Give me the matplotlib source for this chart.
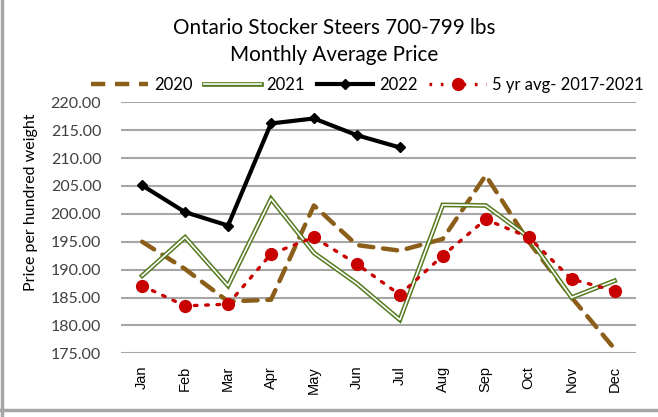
import numpy as np
import matplotlib
matplotlib.use("Agg")
from matplotlib import pyplot as plt
from matplotlib.lines import Line2D
import matplotlib.patheffects as pe

months = ["Jan", "Feb", "Mar", "Apr", "May", "Jun",
          "Jul", "Aug", "Sep", "Oct", "Nov", "Dec"]

y2020 = [195.0, 190.1, 184.3, 184.6, 201.5, 194.4, 193.4, 195.5, 206.9, 195.0, 185.0, 175.8]
y2021 = [188.9, 195.8, 187.1, 202.7, 193.0, 187.5, 181.0, 201.6, 201.5, 195.8, 185.0, 188.0]
y2022 = [205.1, 200.3, 197.9, 216.2, 217.1, 214.1, 211.9]
avg5 = [187.1, 183.5, 183.8, 192.8, 195.8, 191.0, 185.5, 192.5, 199.0, 195.8, 188.3, 186.2]

brown = "#8b5e1a"
green = "#557a1f"
red = "#c80000"
grid = "#a6a6a6"

fig = plt.figure(figsize=(6.58, 4.17), dpi=100)
ax = fig.add_axes([0.1834, 0.1528, 0.7832, 0.6019])

x = np.arange(len(months))

ax.plot(x, y2020, color=brown, lw=3.2, dashes=(3.2, 2.2), solid_capstyle="round",
        dash_capstyle="round", zorder=3)
# double line for 2021: thick green with white core
ax.plot(x, y2021, color=green, lw=3.4, zorder=4, solid_joinstyle="miter")
ax.plot(x, y2021, color="white", lw=1.2, zorder=4.1, solid_joinstyle="miter")
ax.plot(x[:len(y2022)], y2022, color="black", lw=3.0, marker="D", ms=5,
        zorder=5)
ax.plot(x, avg5, color=red, lw=2.4, linestyle=(0, (0.8, 2.6)),
        dash_capstyle="round", marker="o", ms=8.5, zorder=6)

ax.set_xlim(-0.5, 11.5)
ax.set_ylim(175, 220)
ax.set_yticks(np.arange(175, 221, 5))
ax.set_yticklabels([f"{v:.2f}" for v in np.arange(175, 221, 5)],
                   fontsize=11.5, family="Lato", color="#404040")
ax.set_xticks(x)
ax.set_xticklabels(months, rotation=90, fontsize=10.5, family="Liberation Sans")
ax.tick_params(length=0)
ax.tick_params(axis="y", pad=14)
ax.tick_params(axis="x", pad=9)
ax.grid(axis="y", color=grid, lw=1.5)
ax.set_axisbelow(True)
for s in ax.spines.values():
    s.set_visible(False)

fig.text(0.047, 0.515, "Price per hundred weight", rotation=90, ha="center",
         va="center", fontsize=11.5, family="Lato")

fig.text(0.508, 0.932, "Ontario Stocker Steers 700-799 lbs", ha="center",
         va="center", fontsize=14.9, family="Lato")
fig.text(0.508, 0.868, "Monthly Average Price", ha="center", va="center",
         fontsize=14.9, family="Lato")

h2020 = Line2D([], [], color=brown, lw=3.2, dashes=(3.2, 2.2))
h2021 = Line2D([], [], color=green, lw=3.4,
               path_effects=[pe.Stroke(linewidth=3.4, foreground=green),
                             pe.Stroke(linewidth=1.2, foreground="white")])
h2022 = Line2D([], [], color="black", lw=3.0, marker="D", ms=5)
havg = Line2D([], [], color=red, lw=2.4, linestyle=(0, (0.8, 2.6)),
              marker="o", ms=8.5)
fig.legend([h2020, h2021, h2022, havg],
           ["2020", "2021", "2022", "5 yr avg- 2017-2021"],
           loc="center", bbox_to_anchor=(0.5585, 0.796), ncol=4, frameon=False,
           prop={"family": "Lato", "size": 12}, handlelength=3.4,
           handletextpad=0.35, columnspacing=0.7)

# outer frame lines (left and bottom)
fig.add_artist(Line2D([0.003, 0.003], [0.0, 1.0], color="#a6a6a6", lw=2.5,
                      transform=fig.transFigure))
fig.add_artist(Line2D([0.0, 1.0], [0.016, 0.016], color="#a6a6a6", lw=2.5,
                      transform=fig.transFigure))

fig.savefig("out.png", dpi=100)
